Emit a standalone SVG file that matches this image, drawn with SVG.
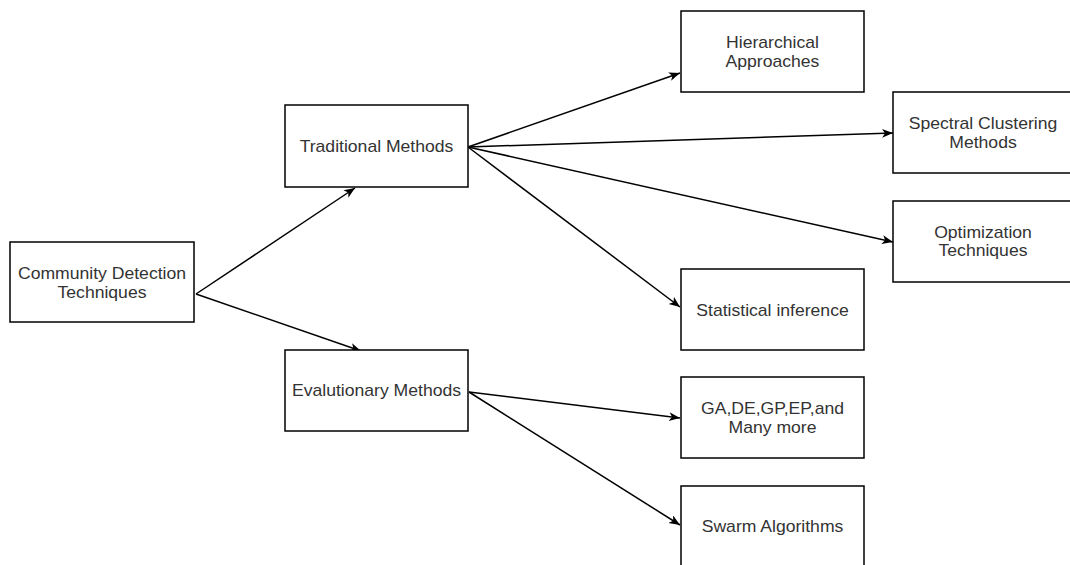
<svg xmlns="http://www.w3.org/2000/svg" width="1070" height="565" viewBox="0 0 1070 565">
<style>
.box{fill:#fff;stroke:#000;stroke-width:1.5}
.lbl{font-family:"Liberation Sans",Arial,sans-serif;font-size:16px;fill:#333;text-anchor:middle}
.edge{stroke:#000;stroke-width:1.5;fill:none;marker-end:url(#arr)}
</style>
<defs>
<marker id="arr" markerUnits="userSpaceOnUse" markerWidth="12" markerHeight="10" refX="11" refY="4.5" orient="auto">
<path d="M0,0 L11,4.5 L0,9 L3,4.5 Z" fill="#000"/>
</marker>
</defs>
<rect width="1070" height="565" fill="#fff"/>
<g id="connectors">
<line class="edge" x1="196" y1="294" x2="355" y2="188"/>
<line class="edge" x1="196" y1="294" x2="361" y2="351"/>
<line class="edge" x1="468" y1="147" x2="680" y2="73"/>
<line class="edge" x1="468" y1="147" x2="893" y2="133"/>
<line class="edge" x1="468" y1="147" x2="893" y2="242"/>
<line class="edge" x1="468" y1="147" x2="680" y2="307"/>
<line class="edge" x1="469" y1="392" x2="680" y2="418"/>
<line class="edge" x1="469" y1="392" x2="680" y2="525"/>
</g>
<g id="community">
<rect class="box" x="10" y="242" width="184" height="80"/>
<text class="lbl" transform="translate(102,279.3) scale(1.1 1)">Community Detection</text>
<text class="lbl" transform="translate(102,297.7) scale(1.1 1)">Techniques</text>
</g>
<g id="traditional">
<rect class="box" x="285" y="105" width="183" height="82"/>
<text class="lbl" transform="translate(376.5,152.3) scale(1.1 1)">Traditional Methods</text>
</g>
<g id="evolutionary">
<rect class="box" x="285" y="350" width="183" height="81"/>
<text class="lbl" transform="translate(376.5,395.5) scale(1.1 1)">Evalutionary Methods</text>
</g>
<g id="hierarchical">
<rect class="box" x="681" y="11" width="183" height="81"/>
<text class="lbl" transform="translate(772.5,48.3) scale(1.1 1)">Hierarchical</text>
<text class="lbl" transform="translate(772.5,66.7) scale(1.1 1)">Approaches</text>
</g>
<g id="spectral">
<rect class="box" x="893" y="92" width="184" height="81"/>
<text class="lbl" transform="translate(983,129.3) scale(1.1 1)">Spectral Clustering</text>
<text class="lbl" transform="translate(983,147.7) scale(1.1 1)">Methods</text>
</g>
<g id="optimization">
<rect class="box" x="893" y="201" width="184" height="81"/>
<text class="lbl" transform="translate(983,238) scale(1.1 1)">Optimization</text>
<text class="lbl" transform="translate(983,256.4) scale(1.1 1)">Techniques</text>
</g>
<g id="statistical">
<rect class="box" x="681" y="269" width="183" height="81"/>
<text class="lbl" transform="translate(772.5,315.7) scale(1.1 1)">Statistical inference</text>
</g>
<g id="ga">
<rect class="box" x="681" y="377" width="183" height="81"/>
<text class="lbl" transform="translate(772.5,414.3) scale(1.1 1)">GA,DE,GP,EP,and</text>
<text class="lbl" transform="translate(772.5,432.7) scale(1.1 1)">Many more</text>
</g>
<g id="swarm">
<rect class="box" x="681" y="486" width="183" height="81"/>
<text class="lbl" transform="translate(772.5,531.7) scale(1.1 1)">Swarm Algorithms</text>
</g>
</svg>
